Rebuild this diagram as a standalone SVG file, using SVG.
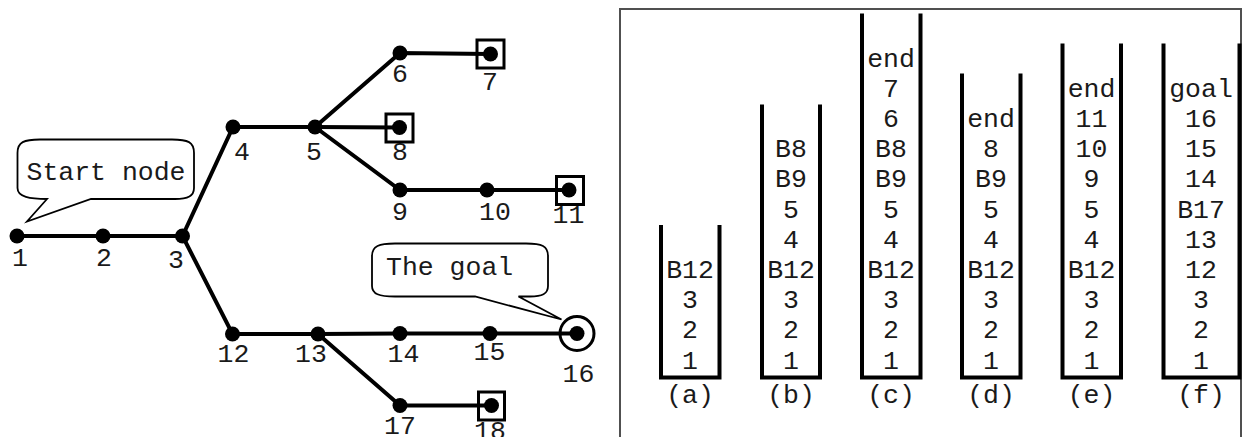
<svg xmlns="http://www.w3.org/2000/svg" width="1248" height="437" viewBox="0 0 1248 437">
<style>
text{font-family:"Liberation Mono","Courier New",monospace;font-size:26.5px;fill:#1a1a1a}
.e{stroke:#000;stroke-width:4;fill:none;stroke-linecap:round}
.n{fill:#000}
.box{fill:none;stroke:#000;stroke-width:3}
.bub{fill:#fff;stroke:#000;stroke-width:1.8;stroke-linejoin:miter}
.w{fill:none;stroke:#000;stroke-width:4;stroke-linejoin:miter}
.c{text-anchor:middle}
</style>
<rect width="1248" height="437" fill="#fff"/>
<g id="connectors">
<path class="e" d="M17,236 L103,236 L182.5,236 L233,127 L315,127 L400,53 L490.5,54"/>
<path class="e" d="M315,127 L399.5,127.5"/>
<path class="e" d="M315,127 L400,190 L487,190 L569,190"/>
<path class="e" d="M182.5,236 L232.5,334 L318,334 L400,333.5 L490,333.5 L577,333.5"/>
<path class="e" d="M318,334 L400,405.5 L491.5,405.5"/>
</g>
<g id="node1"><circle class="n" cx="17" cy="236" r="7.5"/><text class="c" x="20" y="266">1</text></g>
<g id="node2"><circle class="n" cx="103" cy="236" r="7.5"/><text class="c" x="104" y="266">2</text></g>
<g id="node3"><circle class="n" cx="182.5" cy="236" r="7.5"/><text class="c" x="176" y="268">3</text></g>
<g id="node4"><circle class="n" cx="233" cy="127" r="7.5"/><text class="c" x="242" y="160">4</text></g>
<g id="node5"><circle class="n" cx="315" cy="127" r="7.5"/><text class="c" x="314" y="160">5</text></g>
<g id="node6"><circle class="n" cx="400" cy="53" r="7.5"/><text class="c" x="400" y="82">6</text></g>
<g id="node7"><circle class="n" cx="490.5" cy="54" r="7.5"/><rect class="box" x="477" y="40" width="27" height="28"/><text class="c" x="490" y="90">7</text></g>
<g id="node8"><circle class="n" cx="399.5" cy="127.5" r="7.5"/><text class="c" x="400" y="160">8</text><rect class="box" x="386" y="114" width="27" height="28"/></g>
<g id="node9"><circle class="n" cx="400" cy="190" r="7.5"/><text class="c" x="400" y="220">9</text></g>
<g id="node10"><circle class="n" cx="487" cy="190" r="7.5"/><text class="c" x="495" y="220">10</text></g>
<g id="node11"><circle class="n" cx="569" cy="190" r="7.5"/><text class="c" x="568.5" y="223">11</text><rect class="box" x="556.5" y="176.5" width="27" height="28"/></g>
<g id="node12"><circle class="n" cx="232.5" cy="334" r="7.5"/><text class="c" x="233.5" y="362">12</text></g>
<g id="node13"><circle class="n" cx="318" cy="334" r="7.5"/><text class="c" x="311" y="362">13</text></g>
<g id="node14"><circle class="n" cx="400" cy="333.5" r="7.5"/><text class="c" x="403.5" y="362">14</text></g>
<g id="node15"><circle class="n" cx="490" cy="333.5" r="7.5"/><text class="c" x="489.5" y="359.5">15</text></g>
<g id="node16"><circle class="n" cx="577" cy="333.5" r="7.5"/><circle cx="577" cy="333.5" r="17" fill="none" stroke="#000" stroke-width="3"/><text class="c" x="578.5" y="382">16</text></g>
<g id="node17"><circle class="n" cx="400" cy="405.5" r="7.5"/><text class="c" x="400" y="433.5">17</text></g>
<g id="node18"><circle class="n" cx="491.5" cy="405.5" r="7.5"/><text class="c" x="490" y="439">18</text><rect class="box" x="478.5" y="392" width="26" height="28"/></g>
<g id="callout-start">
<path class="bub" d="M17.5,153 C17.5,142 24,139.5 40,139.5 L172,139.5 C188,139.5 194,142 194,153 L194,188 C194,196 188,199 175,199 L91,199 L27,221.5 L47,199 C30,199 17.5,197 17.5,188 Z"/>
<text x="26.5" y="179.5">Start node</text>
</g>
<g id="callout-goal">
<path class="bub" d="M372,256 C372,246 379,243.5 395,243.5 L526,243.5 C542,243.5 548,246 548,256 L548,286 C548,294 542,296.5 530,296.5 L518.5,296.5 L561.5,319.5 L475,296.5 L395,296.5 C379,296.5 372,294 372,286 Z"/>
<text x="386" y="275">The goal</text>
</g>
<g id="panel">
<path d="M620,437 L620,9 L1241,9 L1241,437" fill="none" stroke="#505050" stroke-width="2"/>
</g>
<g id="stack-a">
<path class="w" d="M661,225 L661,377.5 L719.5,377.5 L719.5,225"/>
<text class="c" x="690" y="368.5">1</text><text class="c" x="690" y="338.3">2</text><text class="c" x="690" y="308.1">3</text><text class="c" x="690" y="277.9">B12</text>
<text class="c" x="690" y="403">(a)</text>
</g>
<g id="stack-b">
<path class="w" d="M762,104.5 L762,377.5 L820,377.5 L820,104.5"/>
<text class="c" x="791" y="368.5">1</text><text class="c" x="791" y="338.3">2</text><text class="c" x="791" y="308.1">3</text><text class="c" x="791" y="277.9">B12</text><text class="c" x="791" y="247.7">4</text><text class="c" x="791" y="217.5">5</text><text class="c" x="791" y="187.3">B9</text><text class="c" x="791" y="157.1">B8</text>
<text class="c" x="791" y="403">(b)</text>
</g>
<g id="stack-c">
<path class="w" d="M862,13.5 L862,377.5 L920.5,377.5 L920.5,13.5"/>
<text class="c" x="891" y="368.5">1</text><text class="c" x="891" y="338.3">2</text><text class="c" x="891" y="308.1">3</text><text class="c" x="891" y="277.9">B12</text><text class="c" x="891" y="247.7">4</text><text class="c" x="891" y="217.5">5</text><text class="c" x="891" y="187.3">B9</text><text class="c" x="891" y="157.1">B8</text><text class="c" x="891" y="126.9">6</text><text class="c" x="891" y="96.7">7</text><text class="c" x="891" y="66.5">end</text>
<text class="c" x="891" y="403">(c)</text>
</g>
<g id="stack-d">
<path class="w" d="M962,73.5 L962,377.5 L1020.5,377.5 L1020.5,73.5"/>
<text class="c" x="991" y="368.5">1</text><text class="c" x="991" y="338.3">2</text><text class="c" x="991" y="308.1">3</text><text class="c" x="991" y="277.9">B12</text><text class="c" x="991" y="247.7">4</text><text class="c" x="991" y="217.5">5</text><text class="c" x="991" y="187.3">B9</text><text class="c" x="991" y="157.1">8</text><text class="c" x="991" y="126.9">end</text>
<text class="c" x="991" y="403">(d)</text>
</g>
<g id="stack-e">
<path class="w" d="M1062.5,43.5 L1062.5,377.5 L1121,377.5 L1121,43.5"/>
<text class="c" x="1091.5" y="368.5">1</text><text class="c" x="1091.5" y="338.3">2</text><text class="c" x="1091.5" y="308.1">3</text><text class="c" x="1091.5" y="277.9">B12</text><text class="c" x="1091.5" y="247.7">4</text><text class="c" x="1091.5" y="217.5">5</text><text class="c" x="1091.5" y="187.3">9</text><text class="c" x="1091.5" y="157.1">10</text><text class="c" x="1091.5" y="126.9">11</text><text class="c" x="1091.5" y="96.7">end</text>
<text class="c" x="1091.5" y="403">(e)</text>
</g>
<g id="stack-f">
<path class="w" d="M1163.5,43.5 L1163.5,377.5 L1239.5,377.5 L1239.5,43.5"/>
<text class="c" x="1201" y="368.5">1</text><text class="c" x="1201" y="338.3">2</text><text class="c" x="1201" y="308.1">3</text><text class="c" x="1201" y="277.9">12</text><text class="c" x="1201" y="247.7">13</text><text class="c" x="1201" y="217.5">B17</text><text class="c" x="1201" y="187.3">14</text><text class="c" x="1201" y="157.1">15</text><text class="c" x="1201" y="126.9">16</text><text class="c" x="1201" y="96.7">goal</text>
<text class="c" x="1201" y="403">(f)</text>
</g>
</svg>
